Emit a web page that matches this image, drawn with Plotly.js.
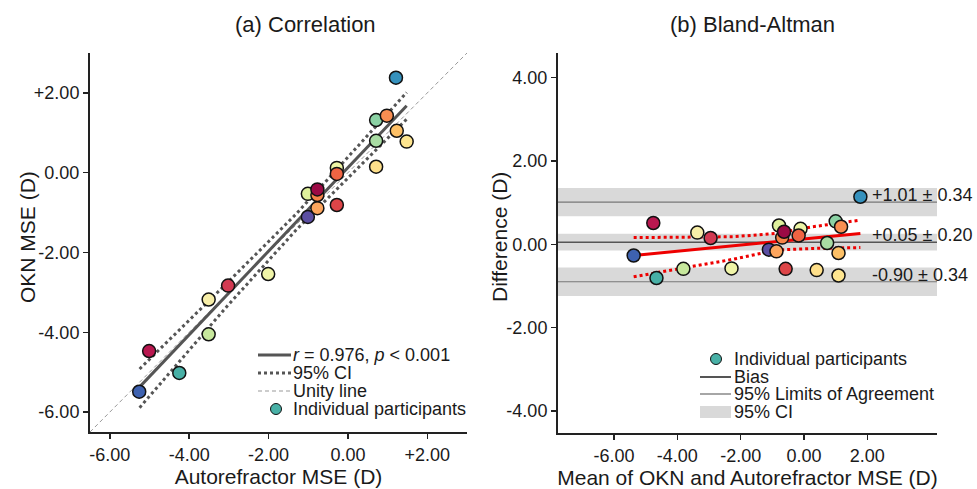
<!DOCTYPE html>
<html><head><meta charset="utf-8">
<script src="https://cdn.plot.ly/plotly-3.0.1.min.js"></script>
<style>html,body{margin:0;padding:0;background:#fff}#chart{width:977px;height:489px}</style>
</head><body><div id="chart"></div>
<script>
// ---- participant data (same order in both panels) ----
const participantColors = ['#48b0a6','#3e62b0','#b8174f','#c7e89d','#f7eea8','#d23a52','#f0f5a8','#5b4ea2',
  '#dff09c','#fca55d','#f68448','#9b0a45','#dd4548','#edf5a6','#ef6443','#fedf8a','#a9dca3','#8bd2a4',
  '#f88e52','#fdc066','#fee58f','#3591bd'];
const autorefractorMSE = [-4.25,-5.26,-5.01,-3.51,-3.51,-3.02,-2.01,-1.01,-1.01,-0.77,-0.77,-0.77,-0.28,-0.28,-0.28,0.71,0.71,0.71,0.98,1.23,1.48,1.21];
const oknMSE = [-5.02,-5.49,-4.47,-4.05,-3.18,-2.83,-2.54,-1.11,-0.53,-0.89,-0.56,-0.42,-0.81,0.12,-0.03,0.15,0.80,1.32,1.43,1.05,0.78,2.38];
const baMeanMSE = [-4.66,-5.38,-4.76,-3.81,-3.37,-2.95,-2.29,-1.11,-0.79,-0.87,-0.69,-0.63,-0.58,-0.11,-0.17,0.40,0.73,1.00,1.17,1.09,1.09,1.78];
const baDifference = [-0.81,-0.27,0.51,-0.59,0.28,0.15,-0.58,-0.13,0.45,-0.17,0.16,0.30,-0.59,0.37,0.21,-0.62,0.03,0.55,0.42,-0.21,-0.75,1.14];

// ---- correlation panel lines ----
const fitX = [-5.23, 1.48];
const fitY = [-5.35, 1.68];
const fitCIX = [-5.25, -3.03, -1.30, 1.48];
const fitCIUpper = [-4.92, -2.75, -1.03, 2.01];
const fitCILower = [-5.89, -3.33, -1.43, 1.34];
const unityX = [-6.5, 3.0];
const unityY = [-6.5, 3.0];

// ---- Bland-Altman panel lines ----
const baFitX = [-5.38, 1.78];
const baFitY = [-0.27, 0.26];
const baCIX = [-5.38, -3.82, -2.24, -0.87, 0.28, 1.78];
const baCIUpper = [0.16, 0.17, 0.18, 0.26, 0.42, 0.58];
const baCILower = [-0.78, -0.58, -0.36, -0.14, -0.10, -0.08];
const limitNames = ['upper LoA', 'bias', 'lower LoA'];
const limitValues = [1.01, 0.05, -0.90];
const limitCI = [0.34, 0.20, 0.34];
const limitLabels = ['+1.01 ± 0.34', '+0.05 ± 0.20', '-0.90 ± 0.34'];

// ---- ticks ----
const corrTickVals = [-6, -4, -2, 0, 2];
const corrTickText = ['-6.00', '-4.00', '-2.00', '0.00', '+2.00'];
const baXTickVals = [-6, -4, -2, 0, 2];
const baXTickText = ['-6.00', '-4.00', '-2.00', '0.00', '2.00'];
const baYTickVals = [4, 2, 0, -2, -4];
const baYTickText = ['4.00', '2.00', '0.00', '-2.00', '-4.00'];

const FONT = 'Arial, "Liberation Sans", sans-serif';
const TXT = '#1a1a1a';
const corrRange = [-6.5, 3.0];
const baXRange = [-7.77, 4.2];
const baYRange = [-4.53, 4.59];

const MARKER_SIZE = 13;
const traces = [];
// unity line
traces.push({x: unityX, y: unityY, mode: 'lines', line: {color: '#999', width: 1, dash: '4px,3px'}, xaxis: 'x', yaxis: 'y', hoverinfo: 'skip'});
// CI
traces.push({x: fitCIX, y: fitCIUpper, mode: 'lines', line: {color: '#555', width: 3, dash: 'dot'}, xaxis: 'x', yaxis: 'y'});
traces.push({x: fitCIX, y: fitCILower, mode: 'lines', line: {color: '#555', width: 3, dash: 'dot'}, xaxis: 'x', yaxis: 'y'});
// fit
traces.push({x: fitX, y: fitY, mode: 'lines', line: {color: '#555', width: 3}, xaxis: 'x', yaxis: 'y'});
// points
traces.push({x: autorefractorMSE, y: oknMSE, mode: 'markers', xaxis: 'x', yaxis: 'y',
  marker: {size: MARKER_SIZE, color: participantColors, line: {color: '#111', width: 1.5}}});

// Bland-Altman bands
const bx = [], by = [];
limitValues.forEach((v, i) => {
  const lo = v - limitCI[i], hi = v + limitCI[i];
  bx.push(baXRange[0], baXRange[1], baXRange[1], baXRange[0], baXRange[0], null);
  by.push(lo, lo, hi, hi, lo, null);
});
traces.push({x: bx, y: by, mode: 'lines', fill: 'toself', fillcolor: '#d9d9d9', line: {width: 0}, xaxis: 'x2', yaxis: 'y2', hoverinfo: 'skip'});
limitValues.forEach((v, i) => {
  traces.push({x: baXRange, y: [v, v], mode: 'lines', name: limitNames[i],
    line: {color: i === 1 ? '#555' : '#777', width: i === 1 ? 1.5 : 1.2}, xaxis: 'x2', yaxis: 'y2'});
});
traces.push({x: baCIX, y: baCIUpper, mode: 'lines', line: {color: '#ee0000', width: 3, dash: 'dot'}, xaxis: 'x2', yaxis: 'y2'});
traces.push({x: baCIX, y: baCILower, mode: 'lines', line: {color: '#ee0000', width: 3, dash: 'dot'}, xaxis: 'x2', yaxis: 'y2'});
traces.push({x: baFitX, y: baFitY, mode: 'lines', line: {color: '#ee0000', width: 3}, xaxis: 'x2', yaxis: 'y2'});
traces.push({x: baMeanMSE, y: baDifference, mode: 'markers', xaxis: 'x2', yaxis: 'y2',
  marker: {size: MARKER_SIZE, color: participantColors, line: {color: '#111', width: 1.5}}});

// helpers for paper coords
const W = 977, H = 489;
const px = v => v / W, py = v => 1 - v / H;

const annotations = [];
const shapes = [];
function txt(text, x, y, size, opts) {
  annotations.push(Object.assign({text: text, xref: 'paper', yref: 'paper', x: px(x), y: py(y), showarrow: false,
    xanchor: 'left', yanchor: 'middle', font: {family: FONT, size: size, color: TXT}}, opts || {}));
}
// titles
txt('(a) Correlation', 305, 24, 22, {xanchor: 'center'});
txt('(b) Bland-Altman', 752, 24, 22, {xanchor: 'center'});
// y-axis titles
txt('OKN MSE (D)', 27, 237, 21, {xanchor: 'center', textangle: -90});
txt('Difference (D)', 499, 237, 21, {xanchor: 'center', textangle: -90});

// limit labels
limitLabels.forEach((t, i) => {
  annotations.push({text: t, xref: 'x2', yref: 'y2', x: 2.08, y: limitValues[i], yshift: 7, showarrow: false,
    xanchor: 'left', yanchor: 'middle', font: {family: FONT, size: 18, color: TXT}});
});

// left legend
const leftLegend = [
  {t: '<i>r</i> = 0.976, <i>p</i> &lt; 0.001', y: 355, kind: 'line', color: '#555', w: 3, dash: 'solid'},
  {t: '95% CI', y: 373, kind: 'line', color: '#555', w: 3, dash: 'dot'},
  {t: 'Unity line', y: 391, kind: 'line', color: '#999', w: 1, dash: '4px,3px'},
  {t: 'Individual participants', y: 409, kind: 'dot'}
];
leftLegend.forEach(e => {
  if (e.kind === 'line') {
    shapes.push({type: 'line', xref: 'paper', yref: 'paper', x0: px(258), x1: px(291), y0: py(e.y), y1: py(e.y), line: {color: e.color, width: e.w, dash: e.dash}});
  } else {
    shapes.push({type: 'circle', xref: 'paper', yref: 'paper', x0: px(270.5), x1: px(281.5), y0: py(e.y + 5.5), y1: py(e.y - 5.5), fillcolor: participantColors[0], line: {color: '#111', width: 1}});
  }
  txt(e.t, 291, e.y, 18);
});
// right legend
const rightLegend = [
  {t: 'Individual participants', y: 359, kind: 'dot'},
  {t: 'Bias', y: 377, kind: 'line', color: '#555', w: 2},
  {t: '95% Limits of Agreement', y: 394, kind: 'line', color: '#888', w: 1.5},
  {t: '95% CI', y: 412, kind: 'box'}
];
rightLegend.forEach(e => {
  if (e.kind === 'line') {
    shapes.push({type: 'line', xref: 'paper', yref: 'paper', x0: px(700), x1: px(731), y0: py(e.y), y1: py(e.y), line: {color: e.color, width: e.w}});
  } else if (e.kind === 'box') {
    shapes.push({type: 'rect', xref: 'paper', yref: 'paper', x0: px(700), x1: px(731), y0: py(e.y + 6), y1: py(e.y - 6), fillcolor: '#d9d9d9', line: {width: 0}});
  } else {
    shapes.push({type: 'circle', xref: 'paper', yref: 'paper', x0: px(710.5), x1: px(721.5), y0: py(e.y + 5.5), y1: py(e.y - 5.5), fillcolor: participantColors[0], line: {color: '#111', width: 1}});
  }
  txt(e.t, 732, e.y, 18);
});

const axisBase = {showline: true, linecolor: '#222', linewidth: 2, ticks: 'outside', ticklen: 5, tickwidth: 1.5, tickcolor: '#222',
  showgrid: false, zeroline: false, tickfont: {family: FONT, size: 18, color: TXT}, tickmode: 'array'};

const layout = {
  width: W, height: H, margin: {l: 0, r: 0, t: 0, b: 0}, paper_bgcolor: '#fff', plot_bgcolor: '#fff',
  showlegend: false, font: {family: FONT, color: TXT},
  xaxis: Object.assign({}, axisBase, {domain: [px(90), px(467)], range: corrRange, tickvals: corrTickVals, ticktext: corrTickText,
    anchor: 'y', title: {text: 'Autorefractor MSE (D)', font: {family: FONT, size: 21, color: TXT}, standoff: 6}}),
  yaxis: Object.assign({}, axisBase, {domain: [1 - 432 / H, 1 - 53 / H], range: corrRange, tickvals: corrTickVals, ticktext: corrTickText,
    anchor: 'x'}),
  xaxis2: Object.assign({}, axisBase, {domain: [px(558), px(937)], range: baXRange, tickvals: baXTickVals, ticktext: baXTickText,
    anchor: 'y2', title: {text: 'Mean of OKN and Autorefractor MSE (D)', font: {family: FONT, size: 21, color: TXT}, standoff: 6}}),
  yaxis2: Object.assign({}, axisBase, {domain: [1 - 433 / H, 1 - 53 / H], range: baYRange, tickvals: baYTickVals, ticktext: baYTickText,
    anchor: 'x2'}),
  annotations: annotations, shapes: shapes
};
Plotly.newPlot('chart', traces, layout, {staticPlot: true, displayModeBar: false});
</script></body></html>
